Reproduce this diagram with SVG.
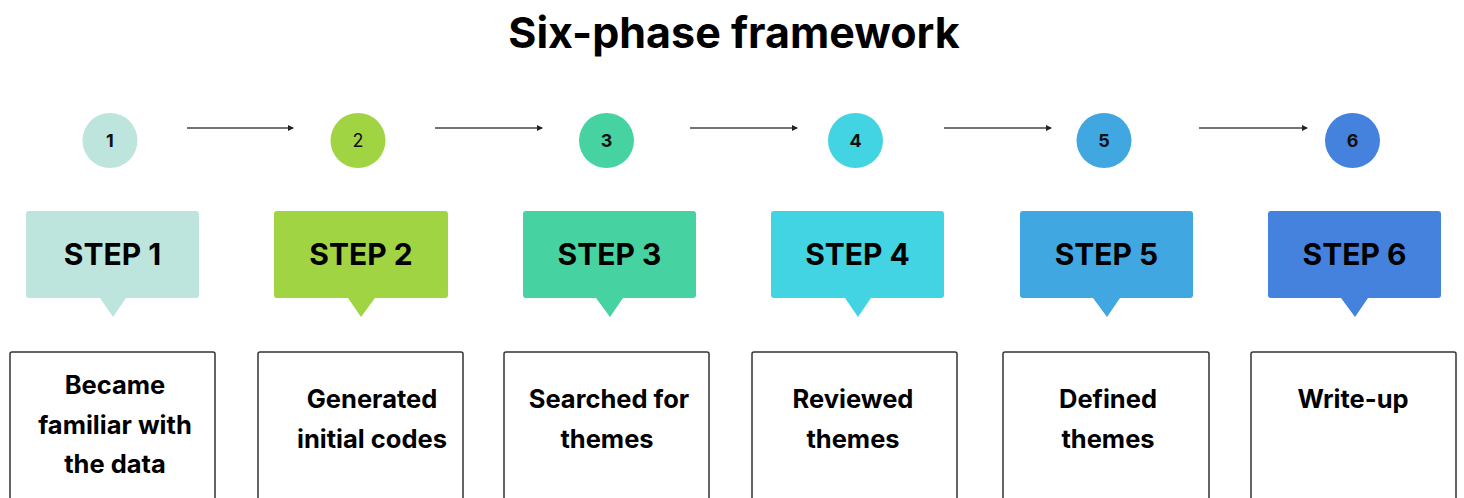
<svg xmlns="http://www.w3.org/2000/svg" width="1464" height="498" viewBox="0 0 1464 498">
  <defs>
    <marker id="arrowhead" viewBox="0 0 6 6" refX="5" refY="3" markerWidth="6" markerHeight="6" markerUnits="userSpaceOnUse" orient="auto">
      <path d="M0,0 L6,3 L0,6 Z" fill="#222"/>
    </marker>
    <style>
      .title { font-family: Inter, "Liberation Sans", sans-serif; font-weight: 700; font-size: 43px; fill: #000; text-anchor: middle; }
      .num { font-family: Inter, "Liberation Sans", sans-serif; font-weight: 700; font-size: 18px; fill: #111; text-anchor: middle; }
      .step { font-family: Inter, "Liberation Sans", sans-serif; font-weight: 700; font-size: 30px; fill: #000; text-anchor: middle; }
      .desc { font-family: Inter, "Liberation Sans", sans-serif; font-weight: 700; font-size: 25.5px; fill: #000; text-anchor: middle; }
      .card { fill: #fff; stroke: #333; stroke-width: 1.5; }
      .conn { stroke: #444; stroke-width: 1.6; fill: none; marker-end: url(#arrowhead); }
    </style>
  </defs>
  <rect width="1464" height="498" fill="#fff"/>

  <text class="title" x="734" y="48">Six-phase framework</text>

  <g id="connectors">
    <line class="conn" x1="187" y1="128" x2="293" y2="128"/>
    <line class="conn" x1="435" y1="128" x2="542" y2="128"/>
    <line class="conn" x1="690" y1="128" x2="797" y2="128"/>
    <line class="conn" x1="944" y1="128" x2="1051" y2="128"/>
    <line class="conn" x1="1199" y1="128" x2="1307" y2="128"/>
  </g>

  <g id="step1">
    <circle cx="110" cy="140.5" r="27.5" fill="#BEE5DD"/>
    <text class="num" x="110" y="147">1</text>
    <path d="M29,211 H196 Q199,211 199,214 V295 Q199,298 196,298 H126 L113,317 L100,298 H29 Q26,298 26,295 V214 Q26,211 29,211 Z" fill="#BEE5DD"/>
    <text class="step" x="112.5" y="265">STEP 1</text>
    <rect class="card" x="10" y="352" width="205" height="160" rx="2"/>
    <text class="desc" x="115" y="394">Became</text>
    <text class="desc" x="115" y="434">familiar with</text>
    <text class="desc" x="115" y="473">the data</text>
  </g>

  <g id="step2">
    <circle cx="358" cy="140.5" r="27.5" fill="#A0D443"/>
    <text class="num" x="358" y="147" style="font-weight:400">2</text>
    <path d="M277,211 H445 Q448,211 448,214 V295 Q448,298 445,298 H375 L361,317 L348,298 H277 Q274,298 274,295 V214 Q274,211 277,211 Z" fill="#A0D443"/>
    <text class="step" x="361" y="265">STEP 2</text>
    <rect class="card" x="258" y="352" width="205" height="160" rx="2"/>
    <text class="desc" x="372" y="408">Generated</text>
    <text class="desc" x="372" y="448">initial codes</text>
  </g>

  <g id="step3">
    <circle cx="606.5" cy="140.5" r="27.5" fill="#47D3A1"/>
    <text class="num" x="606.5" y="147">3</text>
    <path d="M526,211 H693 Q696,211 696,214 V295 Q696,298 693,298 H623 L610,317 L596,298 H526 Q523,298 523,295 V214 Q523,211 526,211 Z" fill="#47D3A1"/>
    <text class="step" x="609.5" y="265">STEP 3</text>
    <rect class="card" x="504" y="352" width="205" height="160" rx="2"/>
    <text class="desc" x="609" y="408">Searched for</text>
    <text class="desc" x="607" y="448">themes</text>
  </g>

  <g id="step4">
    <circle cx="855.5" cy="140.5" r="27.5" fill="#42D4E2"/>
    <text class="num" x="855.5" y="147">4</text>
    <path d="M774,211 H941 Q944,211 944,214 V295 Q944,298 941,298 H871 L858,317 L845,298 H774 Q771,298 771,295 V214 Q771,211 774,211 Z" fill="#42D4E2"/>
    <text class="step" x="857.5" y="265">STEP 4</text>
    <rect class="card" x="752" y="352" width="205" height="160" rx="2"/>
    <text class="desc" x="853" y="408">Reviewed</text>
    <text class="desc" x="853" y="448">themes</text>
  </g>

  <g id="step5">
    <circle cx="1104" cy="140.5" r="27.5" fill="#41A7E0"/>
    <text class="num" x="1104" y="147">5</text>
    <path d="M1023,211 H1190 Q1193,211 1193,214 V295 Q1193,298 1190,298 H1120 L1107,317 L1093,298 H1023 Q1020,298 1020,295 V214 Q1020,211 1023,211 Z" fill="#41A7E0"/>
    <text class="step" x="1106.5" y="265">STEP 5</text>
    <rect class="card" x="1003" y="352" width="206" height="160" rx="2"/>
    <text class="desc" x="1108" y="408">Defined</text>
    <text class="desc" x="1108" y="448">themes</text>
  </g>

  <g id="step6">
    <circle cx="1352.5" cy="140.5" r="27.5" fill="#4482DE"/>
    <text class="num" x="1352.5" y="147">6</text>
    <path d="M1271,211 H1438 Q1441,211 1441,214 V295 Q1441,298 1438,298 H1368 L1355,317 L1341,298 H1271 Q1268,298 1268,295 V214 Q1268,211 1271,211 Z" fill="#4482DE"/>
    <text class="step" x="1354.5" y="265">STEP 6</text>
    <rect class="card" x="1251" y="352" width="205" height="160" rx="2"/>
    <text class="desc" x="1353" y="408">Write-up</text>
  </g>
</svg>
